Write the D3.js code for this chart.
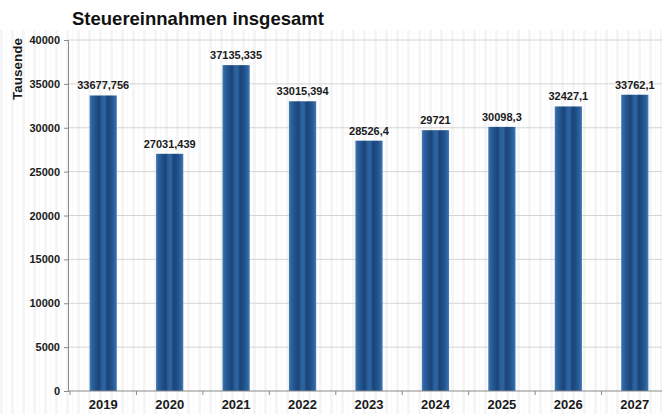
<!DOCTYPE html>
<html>
<head>
<meta charset="utf-8">
<script src="https://cdn.jsdelivr.net/npm/d3@7"></script>
<style>
  html, body { margin: 0; padding: 0; background: #fff; }
  svg { display: block; font-family: "Liberation Sans", Arial, sans-serif; }
</style>
</head>
<body>
<svg id="chart" width="662" height="414"></svg>
<script>
// Tax revenue per year (thousands)
const years = ["2019", "2020", "2021", "2022", "2023", "2024", "2025", "2026", "2027"];
const revenue = [33677.756, 27031.439, 37135.335, 33015.394, 28526.4, 29721, 30098.3, 32427.1, 33762.1];
const revenueLabels = ["33677,756", "27031,439", "37135,335", "33015,394", "28526,4", "29721", "30098,3", "32427,1", "33762,1"];
const yTicks = [0, 5000, 10000, 15000, 20000, 25000, 30000, 35000, 40000];

const svg = d3.select("#chart");
const W = 662, H = 414;
const margin = { left: 68, right: -6, top: 40, bottom: 23 };
const plotBottom = H - margin.bottom;

const x = d3.scaleBand().domain(years).range([margin.left + 2, W - margin.right]).paddingInner(0.59).paddingOuter(0.295);
const y = d3.scaleLinear().domain([0, 40000]).range([plotBottom, margin.top]);

const defs = svg.append("defs");

// faint vertical stripe texture behind the plot
const pat = defs.append("pattern").attr("id", "stripes").attr("patternUnits", "userSpaceOnUse")
  .attr("width", 11).attr("height", 10);
pat.append("rect").attr("width", 11).attr("height", 10).attr("fill", "#ffffff");
pat.append("rect").attr("x", 0).attr("width", 3).attr("height", 10).attr("fill", "#f5f5f5");
pat.append("rect").attr("x", 6).attr("width", 1).attr("height", 10).attr("fill", "#f9f9f9");

// banded bar fill: light edges with darker inner stripes
const grad = defs.append("linearGradient").attr("id", "barFill").attr("x1", "0").attr("x2", "1").attr("y1", "0").attr("y2", "0");
[
  [0, "#4a7fb8"], [0.08, "#2c63a0"], [0.25, "#1f4f86"], [0.35, "#1b4478"], [0.45, "#2a5f9c"],
  [0.55, "#2d64a2"], [0.65, "#1b4478"], [0.78, "#1f4f86"], [0.92, "#2c63a0"], [1, "#4a7fb8"]
].forEach(([o, c]) => grad.append("stop").attr("offset", o).attr("stop-color", c));

svg.append("rect").attr("x", 0).attr("y", 30).attr("width", W).attr("height", H - 30)
  .attr("fill", "url(#stripes)");

// horizontal grid lines
svg.append("g").selectAll("line").data(yTicks.filter(d => d > 0)).join("line")
  .attr("x1", margin.left).attr("x2", W)
  .attr("y1", d => y(d)).attr("y2", d => y(d))
  .attr("stroke", "#d4d4d4").attr("stroke-width", 1);

// y axis
const yAxis = svg.append("g").attr("transform", `translate(${margin.left},0)`)
  .call(d3.axisLeft(y).tickValues(yTicks).tickSize(4).tickPadding(4).tickFormat(d3.format("d")));
yAxis.select(".domain").attr("stroke", "#8a8a8a");
yAxis.selectAll(".tick line").attr("stroke", "#8a8a8a");
yAxis.selectAll("text").attr("font-size", 11).attr("font-weight", "bold").attr("fill", "#1a1a1a");

// bars
svg.append("g").selectAll("rect").data(years).join("rect")
  .attr("x", (d) => x(d))
  .attr("width", x.bandwidth())
  .attr("y", (d, i) => y(revenue[i]))
  .attr("height", (d, i) => plotBottom - y(revenue[i]))
  .attr("fill", "url(#barFill)");

// value labels
svg.append("g").selectAll("text").data(years).join("text")
  .attr("x", d => x(d) + x.bandwidth() / 2)
  .attr("y", (d, i) => y(revenue[i]) - 6)
  .attr("text-anchor", "middle")
  .attr("font-size", 11).attr("font-weight", "bold").attr("fill", "#1a1a1a")
  .text((d, i) => revenueLabels[i]);

// x axis
const step = x.step();
svg.append("line").attr("x1", margin.left).attr("x2", W).attr("y1", plotBottom).attr("y2", plotBottom)
  .attr("stroke", "#8a8a8a");
svg.append("g").selectAll("line").data(years).join("line")
  .attr("x1", d => x(d) - (step - x.bandwidth()) / 2).attr("x2", d => x(d) - (step - x.bandwidth()) / 2)
  .attr("y1", plotBottom).attr("y2", plotBottom + 4)
  .attr("stroke", "#8a8a8a");
svg.append("g").selectAll("text").data(years).join("text")
  .attr("x", d => x(d) + x.bandwidth() / 2)
  .attr("y", plotBottom + 18)
  .attr("text-anchor", "middle")
  .attr("font-size", 13).attr("font-weight", "bold").attr("fill", "#1a1a1a")
  .text(d => d);

// title and axis label
svg.append("text").attr("x", 72).attr("y", 25)
  .attr("font-size", 18.5).attr("font-weight", "bold").attr("fill", "#111")
  .text("Steuereinnahmen insgesamt");
svg.append("text").attr("transform", "translate(22,69) rotate(-90)")
  .attr("text-anchor", "middle")
  .attr("font-size", 13.5).attr("font-weight", "bold").attr("fill", "#1a1a1a")
  .text("Tausende");
</script>
</body>
</html>
